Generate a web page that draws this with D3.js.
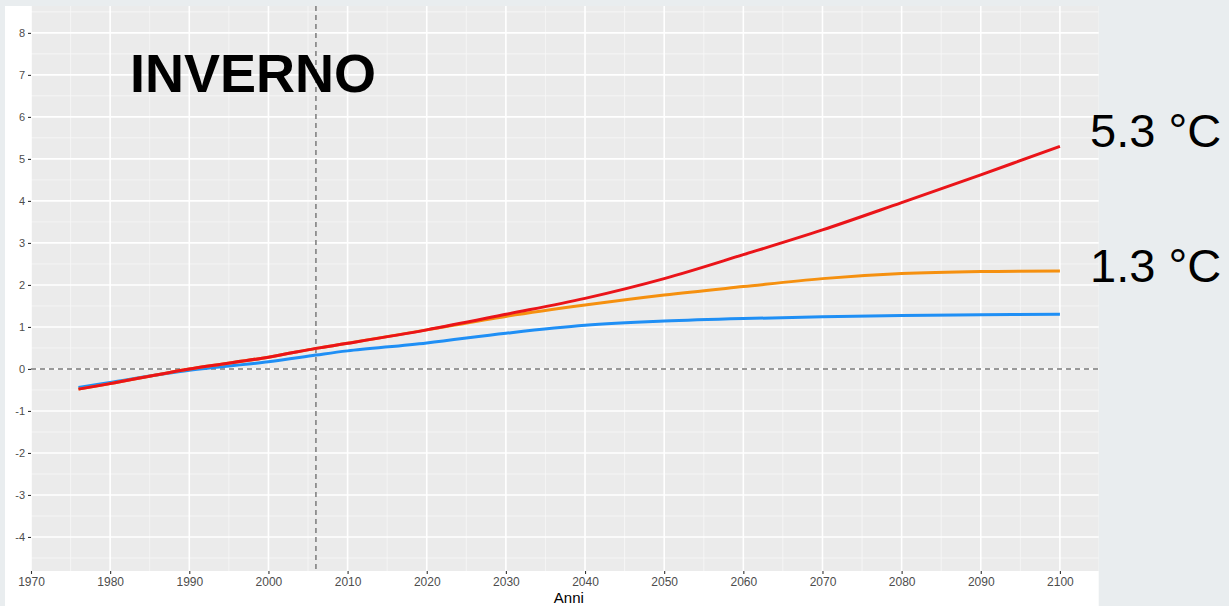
<!DOCTYPE html>
<html>
<head>
<meta charset="utf-8">
<script src="https://cdn.jsdelivr.net/npm/d3@7"></script>
<style>
  html, body { margin: 0; padding: 0; background: #e9edef; }
  svg { display: block; }
  text { font-family: "Liberation Sans", Arial, Helvetica, sans-serif; }
</style>
</head>
<body>
<svg id="chart" width="1229" height="606"></svg>
<script>
// Winter temperature anomaly projections (°C), three scenarios
const years      = [1976, 1980, 1990, 2000, 2006, 2010, 2020, 2030, 2040, 2050, 2060, 2070, 2080, 2090, 2100];
const lowSeries  = [-0.44, -0.32, -0.03, 0.17, 0.33, 0.43, 0.62, 0.85, 1.04, 1.14, 1.20, 1.24, 1.27, 1.29, 1.30];
const midSeries  = [-0.48, -0.35, 0.00, 0.28, 0.49, 0.61, 0.93, 1.25, 1.52, 1.76, 1.96, 2.15, 2.27, 2.32, 2.33];
const highSeries = [-0.48, -0.35, 0.00, 0.28, 0.49, 0.61, 0.93, 1.30, 1.68, 2.15, 2.72, 3.31, 3.96, 4.62, 5.30];

const xTicks = [1970, 1980, 1990, 2000, 2010, 2020, 2030, 2040, 2050, 2060, 2070, 2080, 2090, 2100];
const yTicks = [-4, -3, -2, -1, 0, 1, 2, 3, 4, 5, 6, 7, 8];
const xMinor = [1975, 1985, 1995, 2005, 2015, 2025, 2035, 2045, 2055, 2065, 2075, 2085, 2095];
const yMinor = [-4.5, -3.5, -2.5, -1.5, -0.5, 0.5, 1.5, 2.5, 3.5, 4.5, 5.5, 6.5, 7.5, 8.5];

const refYear = 2006;
const titleText = "INVERNO";
const xTitle = "Anni";
const endLabels = [
  { text: "5.3 °C", value: 5.3 },
  { text: "1.3 °C", value: 1.3 }
];

const series = [
  { name: "low",  values: lowSeries,  color: "#1f8ff5" },
  { name: "mid",  values: midSeries,  color: "#f5900f" },
  { name: "high", values: highSeries, color: "#ea1419" }
];

const svg = d3.select("#chart");
const panel = { left: 31, right: 1098.7, top: 6, bottom: 571 };

const x = d3.scaleLinear().domain([1970, 2104.9]).range([panel.left, panel.right]);
const y = d3.scaleLinear().domain([-4.81, 8.64]).range([panel.bottom, panel.top]);

// white plot background
svg.append("rect")
  .attr("x", 5).attr("y", 6)
  .attr("width", panel.right - 5).attr("height", 606 - 6)
  .attr("fill", "#ffffff");

// panel
svg.append("rect")
  .attr("x", panel.left).attr("y", panel.top)
  .attr("width", panel.right - panel.left).attr("height", panel.bottom - panel.top)
  .attr("fill", "#ebebeb");

const grid = svg.append("g");
grid.selectAll("line.ymin").data(yMinor).join("line")
  .attr("x1", panel.left).attr("x2", panel.right)
  .attr("y1", d => y(d)).attr("y2", d => y(d))
  .attr("stroke", "#f7f7f7").attr("stroke-width", 0.8);
grid.selectAll("line.xmin").data(xMinor).join("line")
  .attr("y1", panel.top).attr("y2", panel.bottom)
  .attr("x1", d => x(d)).attr("x2", d => x(d))
  .attr("stroke", "#f7f7f7").attr("stroke-width", 0.8);
grid.selectAll("line.ymaj").data(yTicks).join("line")
  .attr("x1", panel.left).attr("x2", panel.right)
  .attr("y1", d => y(d)).attr("y2", d => y(d))
  .attr("stroke", "#ffffff").attr("stroke-width", 1.6);
grid.selectAll("line.xmaj").data(xTicks).join("line")
  .attr("y1", panel.top).attr("y2", panel.bottom)
  .attr("x1", d => x(d)).attr("x2", d => x(d))
  .attr("stroke", "#ffffff").attr("stroke-width", 1.6);

// reference lines
svg.append("line")
  .attr("x1", panel.left).attr("x2", panel.right)
  .attr("y1", y(0)).attr("y2", y(0))
  .attr("stroke", "#7a7a7a").attr("stroke-width", 1.5)
  .attr("stroke-dasharray", "5,4");
svg.append("line")
  .attr("x1", x(refYear)).attr("x2", x(refYear))
  .attr("y1", panel.top).attr("y2", panel.bottom)
  .attr("stroke", "#7a7a7a").attr("stroke-width", 1.5)
  .attr("stroke-dasharray", "5,4");

// axes
const xAxis = svg.append("g")
  .attr("transform", `translate(0,${panel.bottom})`)
  .call(d3.axisBottom(x).tickValues(xTicks).tickFormat(d3.format("d")).tickSize(3).tickPadding(3));
const yAxis = svg.append("g")
  .attr("transform", `translate(${panel.left},0)`)
  .call(d3.axisLeft(y).tickValues(yTicks).tickFormat(d => String(d)).tickSize(3).tickPadding(3));
[xAxis, yAxis].forEach(a => {
  a.select(".domain").remove();
  a.selectAll(".tick line").attr("stroke", "#333333").attr("stroke-width", 1.1);
  a.selectAll(".tick text").attr("fill", "#4d4d4d").attr("font-family", "Liberation Sans, Arial, sans-serif");
});
xAxis.selectAll(".tick text").attr("font-size", 12);
yAxis.selectAll(".tick text").attr("font-size", 11);

svg.append("text")
  .attr("x", (panel.left + panel.right) / 2 + 4).attr("y", 603)
  .attr("text-anchor", "middle")
  .attr("font-size", 15).attr("fill", "#000")
  .text(xTitle);

// series lines
const line = d3.line()
  .x((d, i) => x(years[i]))
  .y(d => y(d))
  .curve(d3.curveCatmullRom.alpha(0.5));

svg.append("g").selectAll("path").data(series).join("path")
  .attr("d", s => line(s.values))
  .attr("fill", "none")
  .attr("stroke", s => s.color)
  .attr("stroke-width", 3)
  .attr("stroke-linecap", "butt");

// title
svg.append("text")
  .attr("x", 130).attr("y", 92)
  .attr("font-size", 54).attr("font-weight", "bold").attr("fill", "#000")
  .text(titleText);

// end-of-century labels
svg.append("g").selectAll("text").data(endLabels).join("text")
  .attr("x", 1090)
  .attr("y", (d, i) => i === 0 ? y(d.value) + 1 : 282)
  .attr("font-size", 47).attr("fill", "#000")
  .text(d => d.text);
</script>
</body>
</html>
